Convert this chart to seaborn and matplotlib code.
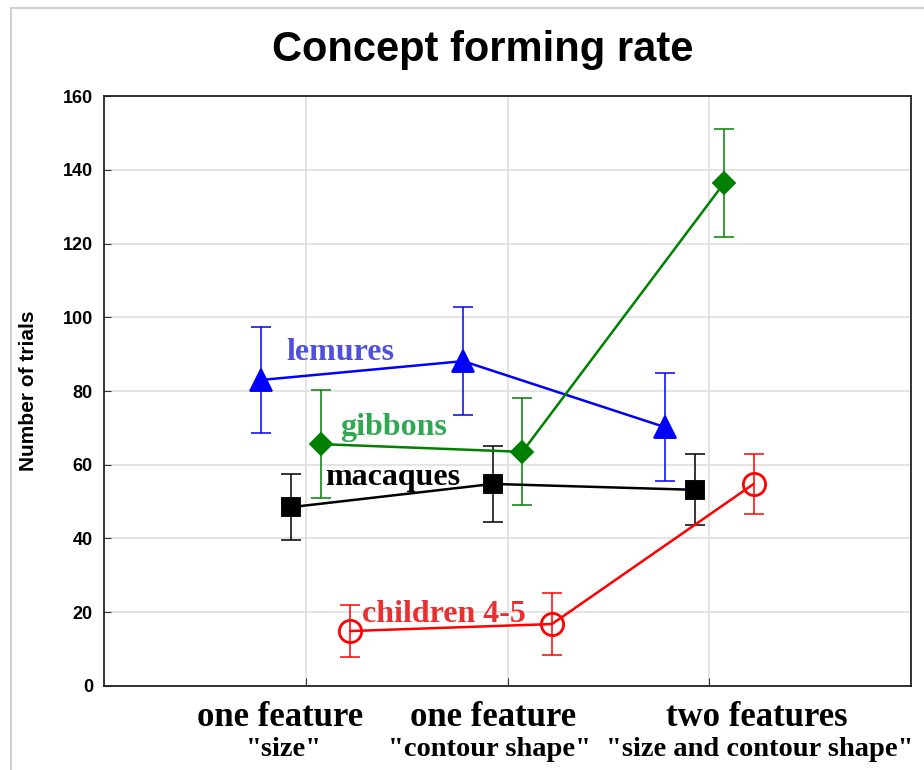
import matplotlib
matplotlib.use('Agg')
import matplotlib.pyplot as plt
import matplotlib.transforms as mtransforms
from matplotlib.patches import Rectangle
import numpy as np
import pandas as pd
import seaborn as sns

# Values (mean number of trials and error bar half-length)
conditions = ['size', 'contour shape', 'size and contour shape']
groups = ['lemures', 'macaques', 'gibbons', 'children 4-5']

lemures_mean = [83.0, 88.1, 70.2]
lemures_err = [14.4, 14.7, 14.6]
macaques_mean = [48.5, 54.8, 53.2]
macaques_err = [9.0, 10.3, 9.6]
gibbons_mean = [65.6, 63.5, 136.4]
gibbons_err = [14.7, 14.5, 14.7]
children_mean = [14.9, 16.8, 54.8]
children_err = [7.0, 8.5, 8.2]

label_top = ['one feature', 'one feature', 'two features']
label_bottom = ['"size"', '"contour shape"', '"size and contour shape"']
yticks = [0, 20, 40, 60, 80, 100, 120, 140, 160]

means = [lemures_mean, macaques_mean, gibbons_mean, children_mean]
errs = [lemures_err, macaques_err, gibbons_err, children_err]

palette = {'lemures': '#0000FF', 'macaques': '#000000',
           'gibbons': '#008000', 'children 4-5': '#FF0000'}
text_colors = {'lemures': '#5050DC', 'macaques': '#000000',
               'gibbons': '#30A850', 'children 4-5': '#E83030'}
markers = ['^', 's', 'D', 'o']
marker_sizes = [16, 13, 11, 16]

df = pd.DataFrame({
    'condition': np.tile(conditions, len(groups)),
    'group': np.repeat(groups, len(conditions)),
    'trials': np.concatenate(means),
})

sns.set_style('white')
plt.rcParams['font.family'] = ['Liberation Sans', 'DejaVu Sans']
plt.rcParams['text.color'] = 'black'
plt.rcParams['axes.labelcolor'] = 'black'
plt.rcParams['xtick.color'] = 'black'
plt.rcParams['ytick.color'] = 'black'

fig = plt.figure(figsize=(9.24, 7.7), dpi=100)
ax = fig.add_axes([0.1126, 0.1091, 0.8734, 0.7662])

n0 = len(ax.lines)
sns.pointplot(data=df, x='condition', y='trials', hue='group',
              order=conditions, hue_order=groups, palette=palette,
              markers=markers, linestyles='-', dodge=0.44,
              errorbar=None, legend=False, ax=ax,
              linewidth=1.8, markersize=14)
point_lines = ax.lines[n0:]

for line, grp, err, ms in zip(point_lines, groups, errs, marker_sizes):
    line.set_markersize(ms)
    line.set_linewidth(1.8)
    line.set_zorder(3)
    if grp == 'children 4-5':
        line.set_markerfacecolor('none')
        line.set_markeredgewidth(2)
    ax.errorbar(line.get_xdata(), line.get_ydata(), yerr=err, fmt='none',
                ecolor=palette[grp], elinewidth=1.1, capsize=7.5,
                capthick=1.1, zorder=2)

# Series name labels inside the plot
name_pos = {'lemures': (-0.094, 88.4), 'gibbons': (0.168, 68.1),
            'macaques': (0.094, 54.5), 'children 4-5': (0.28, 17.4)}
for grp in groups:
    x, y = name_pos[grp]
    ax.text(x, y, grp, color=text_colors[grp], fontsize=23,
            fontweight='bold', family='Liberation Serif',
            ha='left', va='baseline', zorder=4)

ax.set_xlim(-1, 3)
ax.set_ylim(0, 160)
ax.set_yticks(yticks)
ax.set_xticks(range(len(conditions)))
ax.set_xticklabels([])
ax.set_xlabel('')
ax.set_ylabel('Number of trials', fontsize=15, fontweight='bold')
ax.yaxis.set_label_coords(-0.082, 0.5)
for lab in ax.get_yticklabels():
    lab.set_fontweight('bold')
ax.tick_params(axis='y', labelsize=13, direction='in', length=5, pad=8,
               left=True, color='#333333')
ax.tick_params(axis='x', direction='in', length=6, bottom=True,
               color='#333333')
ax.grid(True, color='#DDDDDD', linewidth=1.1, zorder=0)
ax.set_axisbelow(True)
for sp in ax.spines.values():
    sp.set_visible(True)
    sp.set_color('#222222')
    sp.set_linewidth(1.3)

# Category labels below the axis (two lines, different sizes)
trans = mtransforms.blended_transform_factory(ax.transData, fig.transFigure)
top_dx = [-0.13, -0.07, 0.233]
bottom_dx = [-0.11, -0.09, 0.248]
for i in range(len(conditions)):
    ax.text(i + top_dx[i], 1 - 718 / 770, label_top[i], transform=trans,
            family='Liberation Serif', fontweight='bold', fontsize=25,
            ha='center', va='center')
    ax.text(i + bottom_dx[i], 1 - 750 / 770, label_bottom[i],
            transform=trans, family='Liberation Serif', fontweight='bold',
            fontsize=20.5, ha='center', va='center')

fig.text(483 / 924, 1 - 50 / 770, 'Concept forming rate', fontsize=30,
         fontweight='bold', ha='center', va='center')

# light frame around the figure
fig.patches.append(Rectangle((11 / 924, -0.1), 1.2, 1.1 - 8 / 770,
                             transform=fig.transFigure, fill=False,
                             edgecolor='#D0D0D0', linewidth=1.5))

fig.savefig('out.png', dpi=100)
